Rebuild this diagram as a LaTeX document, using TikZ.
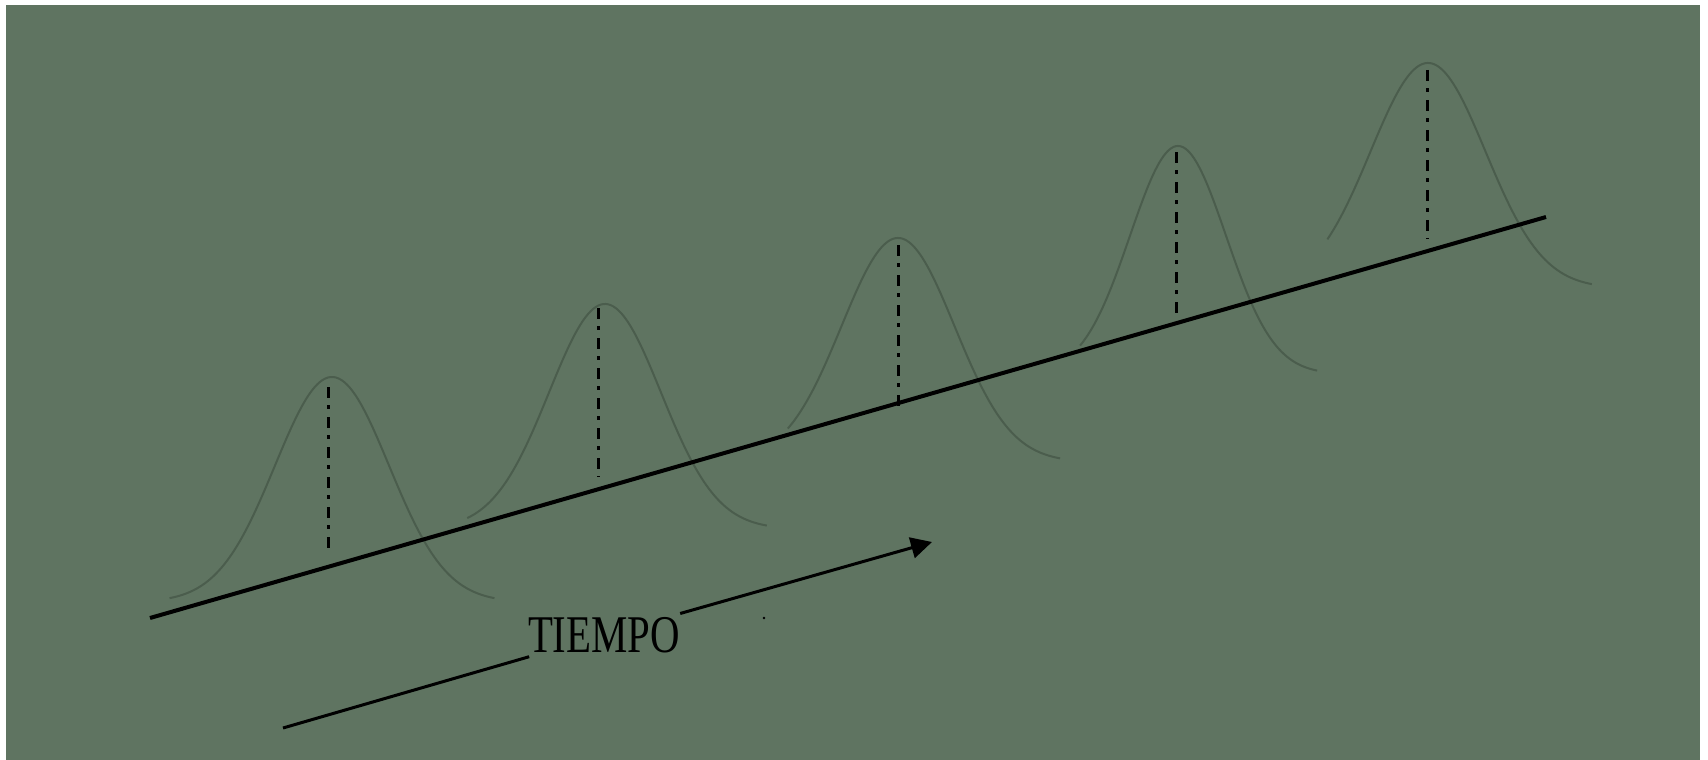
\documentclass[tikz,border=0pt]{standalone}
\usepackage{fontspec}
\setmainfont{Liberation Serif}
\usetikzlibrary{arrows.meta}
\definecolor{bg}{HTML}{5F7461}
\definecolor{curvecol}{HTML}{4B5D4D}
\tikzset{
  gcurve/.style={draw=curvecol, line width=2pt},
  meanline/.style={draw=black, line width=3pt, dash pattern=on 11pt off 7pt on 4pt off 8pt},
  timeline/.style={draw=black, line width=4pt},
  arrowline/.style={draw=black, line width=3pt},
  label/.style={fill=none, inner sep=0pt, minimum width=152pt, minimum height=43pt}
}
% gaussian: cx, sigma, base, height, from, to
\newcommand{\gausscurve}[6]{%
  \draw[gcurve] plot[domain=#5:#6, samples=120, smooth] ({#1+#2*\x},{#3-#4*exp(-\x*\x/2)});
}
\begin{document}
\begin{tikzpicture}[x=1pt,y=-1pt]
\useasboundingbox (0,0) rectangle (1708,760);
\fill[white] (0,0) rectangle (1708,760);
\fill[bg] (6,5) rectangle (1700,760);

% bell curves
\gausscurve{332}{57}{602}{225}{-2.85}{2.85}
\gausscurve{605}{56}{529}{225}{-2.46}{2.89}
\gausscurve{898}{56.5}{462}{224}{-1.95}{2.87}
\gausscurve{1178}{48}{374}{228}{-2.04}{2.9}
\gausscurve{1428}{57.5}{288}{225}{-1.75}{2.85}

% mean lines
\coordinate (m1t) at (328,387);  \coordinate (m1b) at (328,553);
\coordinate (m2t) at (598,308);  \coordinate (m2b) at (598,477);
\coordinate (m3t) at (898,245);  \coordinate (m3b) at (898,412);
\coordinate (m4t) at (1176,152); \coordinate (m4b) at (1176,318);
\coordinate (m5t) at (1427,70);  \coordinate (m5b) at (1427,239);
\foreach \i in {1,...,5} { \draw[meanline] (m\i t) -- (m\i b); }

% main time line
\coordinate (l0) at (150,618);
\coordinate (l1) at (1546,217);
\draw[timeline] (l0) -- (l1);

% time arrow with label
\coordinate (a0) at (283,728);
\coordinate (a1) at (932,542);
\node[label] (t) at (604,635) {\scalebox{0.77}[1]{\fontsize{53}{53}\selectfont TIEMPO}};
\draw[arrowline] (a0) -- (t);
\draw[arrowline, -{Triangle[length=21pt,width=21pt]}] (t) -- (a1);

% stray dot
\fill[black] (764,618) circle (1.3);
\end{tikzpicture}
\end{document}
